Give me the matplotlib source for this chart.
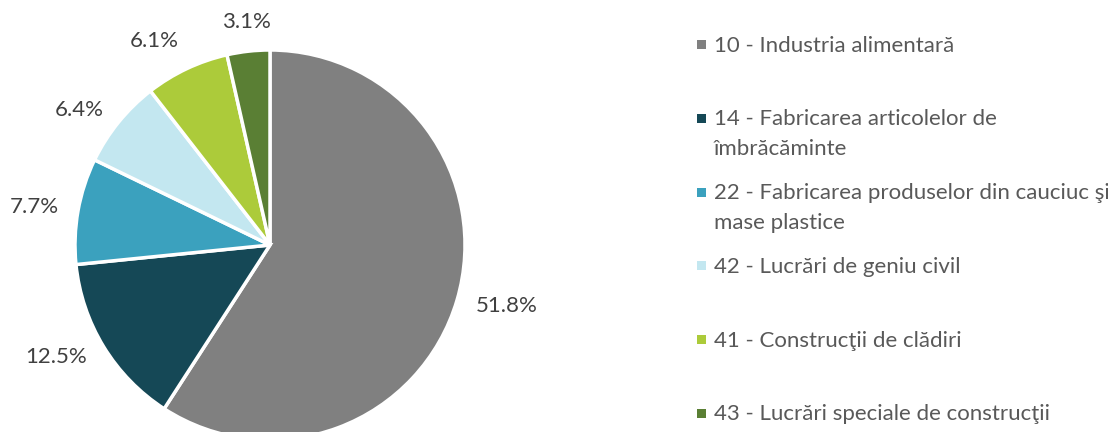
import numpy as np
import matplotlib
matplotlib.use("Agg")
import matplotlib.pyplot as plt
from matplotlib.patches import Rectangle

categories = [
    "10 - Industria alimentară",
    "14 - Fabricarea articolelor de\nîmbrăcăminte",
    "22 - Fabricarea produselor din cauciuc şi\nmase plastice",
    "42 - Lucrări de geniu civil",
    "41 - Construcţii de clădiri",
    "43 - Lucrări speciale de construcţii",
]
values = [51.8, 12.5, 7.7, 6.4, 6.1, 3.1]
value_labels = ["51.8%", "12.5%", "7.7%", "6.4%", "6.1%", "3.1%"]
colors = ["#808080", "#154856", "#3BA1BE", "#C3E7F0", "#ACCB3A", "#5A7F34"]

plt.rcParams['font.family'] = ['Lato', 'DejaVu Sans']
FS = 16

W, H = 1108, 432
fig = plt.figure(figsize=(W / 100, H / 100), dpi=100)

cx, cy, r = 270, 245, 195
ax = fig.add_axes([(cx - r) / W, (H - cy - r) / H, 2 * r / W, 2 * r / H])
wedges, _ = ax.pie(values, colors=colors, startangle=90, counterclock=False,
                   wedgeprops=dict(edgecolor="white", linewidth=2.5))
for w, lab in zip(wedges, value_labels):
    ang = np.deg2rad((w.theta1 + w.theta2) / 2)
    dx, dy = np.cos(ang), np.sin(ang)
    ha = "left" if dx > 0.2 else ("right" if dx < -0.2 else "center")
    va = "bottom" if dy > 0.8 else ("top" if dy < -0.8 else "center")
    ax.text(1.1 * dx, 1.1 * dy, lab, ha=ha, va=va, fontsize=FS, color="#404040")
ax.set_xlim(-1, 1)
ax.set_ylim(-1, 1)
ax.set_aspect("equal")
ax.axis("off")

# legend
lx, ly0, step = 701, 44.5, 73.8
for i, (lab, col) in enumerate(zip(categories, colors)):
    y = ly0 + i * step
    fig.add_artist(Rectangle(((lx - 4.5) / W, (H - y - 4.5) / H), 9 / W, 9 / H,
                             transform=fig.transFigure, facecolor=col, edgecolor="none"))
    fig.text((lx + 13) / W, (H - y + 9) / H, lab, fontsize=FS, color="#595959",
             ha="left", va="top", linespacing=1.6)

fig.savefig("out.png", dpi=100, facecolor="white")
